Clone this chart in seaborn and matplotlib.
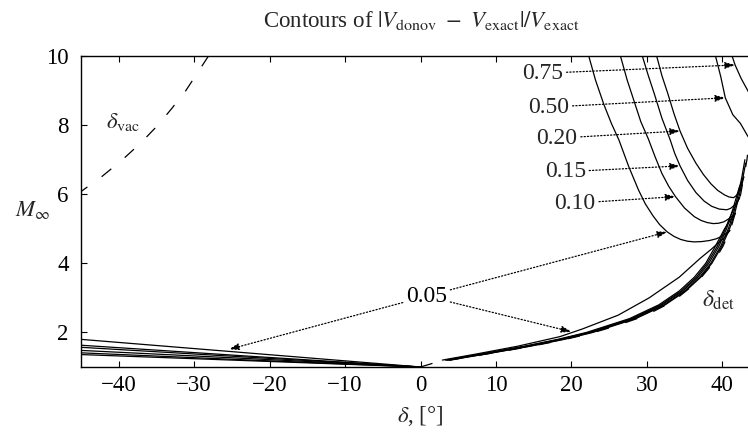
import matplotlib
matplotlib.use('Agg')
import pandas as pd
import matplotlib.pyplot as plt
import seaborn as sns

# ---- data (delta in degrees, M_inf) ----
# detachment line (dashed)
det_line = [(0.0, 1.0), (1.52, 1.1), (3.94, 1.2), (6.66, 1.3), (9.43, 1.4), (12.11, 1.5),
            (14.65, 1.6), (17.01, 1.7), (19.18, 1.8), (21.17, 1.9), (22.97, 2.0),
            (26.10, 2.2), (28.68, 2.4), (30.81, 2.6), (32.59, 2.8), (34.07, 3.0),
            (36.87, 3.5), (38.77, 4.0), (40.11, 4.5), (41.12, 5.0), (42.44, 6.0),
            (43.27, 7.0), (43.79, 8.0), (44.17, 9.0), (44.43, 10.0)]
# vacuum line (dashed)
vac_line = [(-45.5, 6.0), (-42.3, 6.5), (-39.5, 7.0), (-37.0, 7.5), (-34.8, 8.0),
            (-32.9, 8.5), (-31.1, 9.0), (-29.6, 9.5), (-28.1, 10.0)]

# contour 0.05
c05_upper = [(22.3, 10.0), (23.2, 9.3), (24.3, 8.6), (25.3, 8.05), (26.3, 7.57), (27.6, 6.8),
             (28.9, 6.12), (29.8, 5.72), (30.8, 5.38), (31.7, 5.12), (32.7, 4.91),
             (33.6, 4.78), (34.5, 4.69), (35.4, 4.64), (36.3, 4.62), (37.3, 4.63),
             (38.3, 4.66), (39.2, 4.71), (39.9, 4.78), (40.5, 4.86), (41.0, 4.95)]
c05_lower = [(41.0, 4.95), (40.3, 4.75), (38.5, 4.4), (37.1, 4.15), (34.3, 3.6), (30.3, 3.0),
             (26.2, 2.5), (21.45, 2.1), (18.5, 1.88), (12.85, 1.6), (7.5, 1.38), (2.9, 1.2)]
c05_neg = [(-45.0, 1.80), (-22.5, 1.40), (0.0, 1.0)]
# contour 0.10
c10_upper = [(26.5, 10.0), (27.4, 9.3), (28.3, 8.7), (29.2, 8.1), (30.2, 7.6), (31.1, 7.08),
             (32.0, 6.6), (32.9, 6.23), (33.8, 5.93), (35.0, 5.6), (36.3, 5.35), (37.2, 5.24),
             (38.0, 5.18), (38.8, 5.15), (39.5, 5.16), (40.2, 5.2), (40.8, 5.28),
             (41.3, 5.36), (41.75, 5.45)]
c10_lower = [(41.75, 5.45), (40.9, 5.2), (40.3, 5.0), (39.1, 4.5), (37.8, 4.0), (36.3, 3.6),
             (34.3, 3.2), (31.6, 2.8), (27.7, 2.4), (22.0, 2.0), (18.2, 1.8), (13.75, 1.6),
             (8.6, 1.4), (3.3, 1.2)]
c10_neg = [(-45.0, 1.63), (-22.5, 1.31), (0.0, 1.0)]
# contour 0.15
c15_upper = [(29.4, 10.0), (30.2, 9.43), (31.0, 8.9), (32.0, 8.2), (33.1, 7.57), (33.7, 7.18),
             (34.4, 6.82), (35.4, 6.4), (36.5, 6.05), (37.6, 5.8), (38.6, 5.65), (39.6, 5.57),
             (40.6, 5.55), (41.1, 5.59), (41.6, 5.68), (42.0, 5.78), (42.3, 5.9)]
c15_lower = [(42.3, 5.9), (41.6, 5.6), (40.95, 5.3), (40.4, 5.0), (39.35, 4.5), (38.0, 4.0),
             (36.55, 3.6), (34.55, 3.2), (31.85, 2.8), (27.95, 2.4), (22.25, 2.0),
             (18.45, 1.8), (13.95, 1.6), (8.8, 1.4), (3.45, 1.2)]
c15_neg = [(-45.0, 1.57), (-22.5, 1.28), (0.0, 1.0)]
# contour 0.20
c20_upper = [(31.3, 10.0), (32.0, 9.43), (32.8, 8.9), (33.6, 8.33), (34.4, 7.83), (35.4, 7.33),
             (36.5, 6.9), (37.5, 6.57), (38.5, 6.3), (39.4, 6.11), (40.3, 5.98), (40.9, 5.92),
             (41.5, 5.9), (41.9, 5.97), (42.3, 6.1), (42.6, 6.28), (42.85, 6.5)]
c20_lower = [(42.85, 6.5), (42.25, 6.2), (41.85, 5.9), (41.45, 5.6), (41.0, 5.3), (40.57, 5.0),
             (39.56, 4.5), (38.22, 4.0), (36.75, 3.6), (34.75, 3.2), (32.04, 2.8),
             (28.13, 2.4), (22.42, 2.0), (18.63, 1.8), (14.1, 1.6), (8.9, 1.4), (3.55, 1.2)]
c20_neg = [(-45.0, 1.48), (-22.5, 1.24), (0.0, 1.0)]
# contour 0.50
c50_upper = [(39.1, 10.0), (39.8, 9.4), (40.4, 8.79), (41.4, 8.3), (42.4, 8.05), (43.3, 7.71),
             (44.2, 7.4)]
c50_lower = [(43.0, 7.0), (42.6, 6.5), (42.12, 6.0), (41.55, 5.5), (40.8, 5.0), (39.8, 4.5),
             (38.47, 4.0), (37.0, 3.6), (35.0, 3.2), (32.3, 2.8), (28.38, 2.4), (22.67, 2.0),
             (18.9, 1.8), (14.38, 1.6), (9.2, 1.4), (3.75, 1.2)]
c50_neg = [(-45.0, 1.41), (-22.5, 1.20), (0.0, 1.0)]
# contour 0.75
c75_upper = [(41.3, 10.0), (41.7, 9.74), (42.5, 9.35), (43.5, 8.95), (44.5, 8.6)]
c75_lower = [(43.1, 6.9), (42.75, 6.5), (42.29, 6.0), (41.71, 5.5), (40.97, 5.0), (39.96, 4.5),
             (38.62, 4.0), (37.15, 3.6), (35.15, 3.2), (32.44, 2.8), (28.53, 2.4),
             (22.82, 2.0), (19.03, 1.8), (14.5, 1.6), (9.3, 1.4), (3.85, 1.2)]
c75_neg = [(-45.0, 1.36), (-22.5, 1.18), (0.0, 1.0)]

# label text position and arrow tips (delta, M)
labels = ['0.75', '0.50', '0.20', '0.15', '0.10']
label_pos = [(16.2, 9.50), (17.0, 8.52), (18.1, 7.62), (19.2, 6.65), (20.5, 5.74)]
label_tip = [(41.7, 9.74), (40.4, 8.79), (34.4, 7.83), (34.4, 6.82), (33.8, 5.93)]
lab05_pos = (0.8, 3.05)
lab05_tips = [(32.7, 4.91), (20.0, 2.02), (-25.4, 1.51)]

solid = {
    '0.05 up': c05_upper, '0.05 low': c05_lower, '0.05 neg': c05_neg,
    '0.10 up': c10_upper, '0.10 low': c10_lower, '0.10 neg': c10_neg,
    '0.15 up': c15_upper, '0.15 low': c15_lower, '0.15 neg': c15_neg,
    '0.20 up': c20_upper, '0.20 low': c20_lower, '0.20 neg': c20_neg,
    '0.50 up': c50_upper, '0.50 low': c50_lower, '0.50 neg': c50_neg,
    '0.75 up': c75_upper, '0.75 low': c75_lower, '0.75 neg': c75_neg,
}
dashed = {'det': det_line, 'vac': vac_line}


def to_frame(curves):
    rows = [(name, d, m) for name, pts in curves.items() for d, m in pts]
    return pd.DataFrame(rows, columns=['curve', 'delta', 'M'])


sns.set_theme(style='ticks')
plt.rcParams['font.family'] = ['Liberation Serif', 'DejaVu Serif']
plt.rcParams['mathtext.fontset'] = 'stix'

fig = plt.figure(figsize=(7.48, 4.43), dpi=100)
# right side of the plot box is cut off in the reference
ax = fig.add_axes([81 / 748, 76 / 443, 679 / 748, 311 / 443])

sns.lineplot(data=to_frame(solid), x='delta', y='M', units='curve', estimator=None,
             sort=False, color='black', lw=0.9, ax=ax, legend=False)
sns.lineplot(data=to_frame(dashed), x='delta', y='M', units='curve', estimator=None,
             sort=False, color='black', lw=0.9, linestyle=(0, (10, 14)), ax=ax, legend=False)

ax.set_xlim(-45, 45)
ax.set_ylim(1, 10)
ax.set_xticks(range(-40, 41, 10))
ax.set_yticks([2, 4, 6, 8, 10])
ax.tick_params(direction='in', length=4.5, width=0.8, top=True, right=True,
               labelsize=16.5, colors='black')
ax.tick_params(axis='x', pad=6)
ax.tick_params(axis='y', pad=9)
for s in ax.spines.values():
    s.set_linewidth(1.0)
    s.set_color('black')

ax.set_ylabel('')
ax.set_xlabel(r'$\delta$, [°]', fontsize=16.5, va='center')
ax.xaxis.set_label_coords(0.4993, -0.158)
ax.text(-0.0972, 0.505, r'$M_\infty$', transform=ax.transAxes, fontsize=16.5,
        ha='left', va='center')

fig.text(421 / 748, 1 - 20 / 443,
         r'Contours of $|V_{\rm donov}\ -\ V_{\rm exact}|/V_{\rm exact}$',
         ha='center', va='center', fontsize=16.5)

arrow = dict(arrowstyle='-|>,head_length=0.6,head_width=0.2', linestyle=':', lw=0.9,
             color='black', mutation_scale=10, shrinkA=0, shrinkB=0)
for lab, pos, tip in zip(labels, label_pos, label_tip):
    ax.annotate(lab, xy=tip, xytext=pos, ha='center', va='center', fontsize=17,
                arrowprops=arrow)
for i, tip in enumerate(lab05_tips):
    ax.annotate('0.05', xy=tip, xytext=lab05_pos, ha='center', va='center', fontsize=17,
                color='black' if i == 0 else 'none', arrowprops=arrow)

ax.text(-41.7, 8.1, r'$\delta_{\rm vac}$', fontsize=16.5, ha='left', va='center')
ax.text(37.3, 2.94, r'$\delta_{\rm det}$', fontsize=17, ha='left', va='center')

fig.savefig('out.png', dpi=100)
